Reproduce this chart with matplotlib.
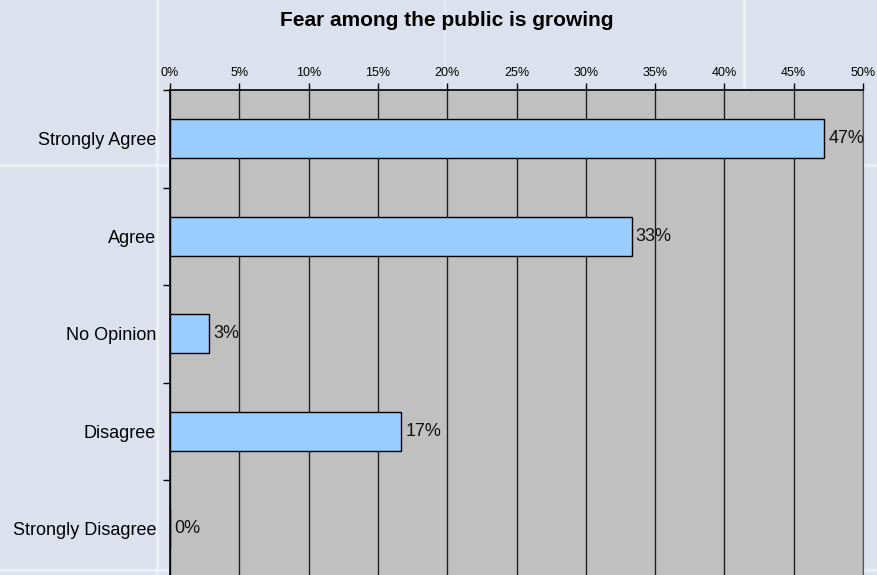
import matplotlib
matplotlib.use("Agg")
import matplotlib.pyplot as plt
from matplotlib.lines import Line2D
from matplotlib.ticker import MultipleLocator, FuncFormatter
import numpy as np

plt.rcParams['font.family'] = ['Liberation Sans', 'DejaVu Sans']

# data
categories = ["Strongly Agree", "Agree", "No Opinion", "Disagree", "Strongly Disagree"]
values = [47.2, 33.3, 2.8, 16.7, 0.0]
labels = ["47%", "33%", "3%", "17%", "0%"]
title = "Fear among the public is growing"

W, H = 877, 575
fig = plt.figure(figsize=(W / 100, H / 100), dpi=100)
fig.patch.set_facecolor("#DCE1ED")

# faint slide-background stripes, behind the plot
for x in (157, 744):
    fig.add_artist(Line2D([x / W, x / W], [0, 1], color="white", lw=2.5, alpha=0.45, zorder=-1))
fig.add_artist(Line2D([445 / W, 445 / W], [1 - 90 / H, 1], color="white", lw=1.5, alpha=0.3, zorder=-1))
fig.add_artist(Line2D([0, 1], [1 - 165 / H, 1 - 165 / H], color="white", lw=2.5, alpha=0.45, zorder=-1))
fig.add_artist(Line2D([0, 1], [1 - 570 / H, 1 - 570 / H], color="white", lw=2.5, alpha=0.45, zorder=-1))

left, right, top, bottom = 170, 863, 90, 577.5
ax = fig.add_axes([left / W, 1 - bottom / H, (right - left) / W, (bottom - top) / H])
ax.set_facecolor("#C0C0C0")

y = np.arange(len(categories))
ax.barh(y, values, height=0.4, color="#99CCFF", edgecolor="black", linewidth=1, zorder=3)
for yi, v, lab in zip(y, values, labels):
    ax.text(v + 0.3, yi, lab, va="center", ha="left", fontsize=13, color="#111111", zorder=4)

ax.set_xlim(0, 50)
ax.set_ylim(len(categories) - 0.5, -0.5)

ax.xaxis.set_major_locator(MultipleLocator(5))
ax.xaxis.set_major_formatter(FuncFormatter(lambda v, p: f"{v:.0f}%"))
ax.xaxis.tick_top()
ax.tick_params(axis="x", direction="out", length=5, width=1, labelsize=9, pad=3, colors="black")
ax.grid(axis="x", color="#202020", lw=1, zorder=1)

ax.set_yticks(np.arange(-0.5, len(categories), 1))
ax.set_yticklabels([])
ax.set_yticks(y, minor=True)
ax.set_yticklabels(categories, minor=True, fontsize=13)
ax.tick_params(axis="y", which="major", direction="out", length=5, width=1)
ax.tick_params(axis="y", which="minor", length=0, pad=10)

for s in ("left", "top"):
    ax.spines[s].set_color("black")
    ax.spines[s].set_linewidth(1.2)
ax.spines["right"].set_color("#555555")
ax.spines["bottom"].set_visible(False)

fig.text(447 / W, 1 - 20 / H, title, ha="center", va="center", fontsize=15, fontweight="bold")

fig.savefig("out.png", dpi=100, facecolor=fig.get_facecolor())
